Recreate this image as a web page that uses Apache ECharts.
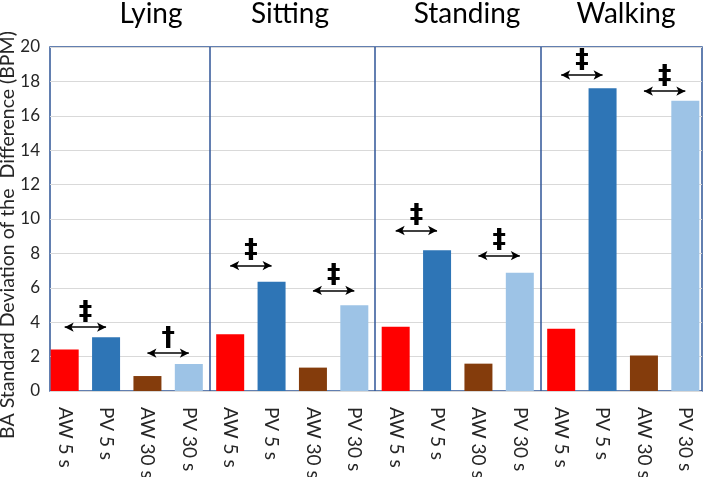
<!DOCTYPE html>
<html><head><meta charset="utf-8">
<script src="https://cdn.jsdelivr.net/npm/echarts@6/dist/echarts.min.js"></script>
<style>html,body{margin:0;padding:0;background:#fff}#c{width:708px;height:477px}</style>
</head><body><div id="c"></div>
<script>
const activities = ['Lying', 'Sitting', 'Standing', 'Walking'];
const conditions = ['AW 5 s', 'PV 5 s', 'AW 30 s', 'PV 30 s'];
const aw5  = [2.42, 3.30, 3.73, 3.62];
const pv5  = [3.12, 6.35, 8.18, 17.6];
const aw30 = [0.87, 1.36, 1.59, 2.06];
const pv30 = [1.57, 4.98, 6.88, 16.88];
const yTicks = [0, 20, 2];
const arrow5Level  = [3.71, 7.29, 9.33, 18.37];
const arrow30Level = [2.2, 5.85, 7.87, 17.43];
const sig5  = ['‡', '‡', '‡', '‡'];
const sig30 = ['†', '‡', '‡', '‡'];
const colors = ['#FF0000', '#2E75B6', '#843C0C', '#9DC3E6'];

const categories = [];
activities.forEach(() => conditions.forEach(c => categories.push(c)));
const seriesVals = [aw5, pv5, aw30, pv30];

const frameColor = '#2F5597';
const font = 'Lato';
const textColor = '#262626';

const series = seriesVals.map((vals, si) => {
  const data = categories.map(() => null);
  vals.forEach((v, ai) => { data[ai * 4 + si] = v; });
  return {
    type: 'bar', name: conditions[si], xAxisIndex: 1, yAxisIndex: 1,
    data, barWidth: 28, barGap: '-100%',
    itemStyle: { color: colors[si] },
    animation: false
  };
});

const mlData = [];
activities.forEach((a, ai) => {
  mlData.push([{ coord: [ai * 4, arrow5Level[ai]], label: { formatter: sig5[ai] } },
               { coord: [ai * 4 + 1, arrow5Level[ai]] }]);
  mlData.push([{ coord: [ai * 4 + 2, arrow30Level[ai]], label: { formatter: sig30[ai] } },
               { coord: [ai * 4 + 3, arrow30Level[ai]] }]);
});
series[0].markLine = {
  silent: true, animation: false,
  symbol: ['arrow', 'arrow'], symbolSize: [7, 9],
  lineStyle: { color: '#000', width: 1.5, type: 'solid' },
  label: { show: true, position: 'middle', distance: 1, color: '#000',
           fontSize: 27, fontWeight: 'bold', fontFamily: 'DejaVu Sans' },
  data: mlData
};

const chart = echarts.init(document.getElementById('c'), null, { renderer: 'canvas' });
chart.setOption({
  backgroundColor: '#fff',
  animation: false,
  title: activities.map((a, i) => ({
    text: a, top: 0, padding: 0,
    left: [151, 290, 467, 626][i], textAlign: 'center',
    textStyle: { fontFamily: font, fontSize: 28, fontWeight: 'normal', color: '#000' }
  })),
  grid: [
    { left: 50, right: 6, top: 47, bottom: 86, show: true, borderColor: frameColor, borderWidth: 1.5,
      backgroundColor: 'transparent', outerBoundsMode: 'none', containLabel: false },
    { left: 44, right: 2, top: 47, bottom: 86, outerBoundsMode: 'none', containLabel: false }
  ],
  xAxis: [
    { type: 'value', gridIndex: 0, min: 0, max: 1, show: false },
    { type: 'category', gridIndex: 1, data: categories,
      axisLine: { show: false }, axisTick: { show: false },
      axisLabel: { rotate: -90, margin: 16, fontSize: 19, color: textColor, fontFamily: font, interval: 0 },
      splitLine: { show: true, interval: (i) => i > 0 && i < 16 && i % 4 === 0,
                   lineStyle: { color: [frameColor, frameColor, frameColor, 'rgba(0,0,0,0)'], width: 1.5 } } }
  ],
  yAxis: [
    { type: 'value', gridIndex: 0, min: yTicks[0], max: yTicks[1], interval: yTicks[2],
      axisLine: { show: false }, axisTick: { show: false },
      axisLabel: { fontSize: 17, color: textColor, fontFamily: font, margin: 10 },
      splitLine: { lineStyle: { color: '#D9D9D9', width: 1 } },
      name: 'BA Standard Deviation of the  Difference (BPM)', nameLocation: 'middle', nameGap: 32,
      nameMoveOverlap: false,
      nameTextStyle: { fontSize: 19.5, color: textColor, fontFamily: font, padding: [0, 32, 0, 0] } },
    { type: 'value', gridIndex: 1, min: yTicks[0], max: yTicks[1], interval: yTicks[2], show: false }
  ],
  series
});
</script></body></html>
